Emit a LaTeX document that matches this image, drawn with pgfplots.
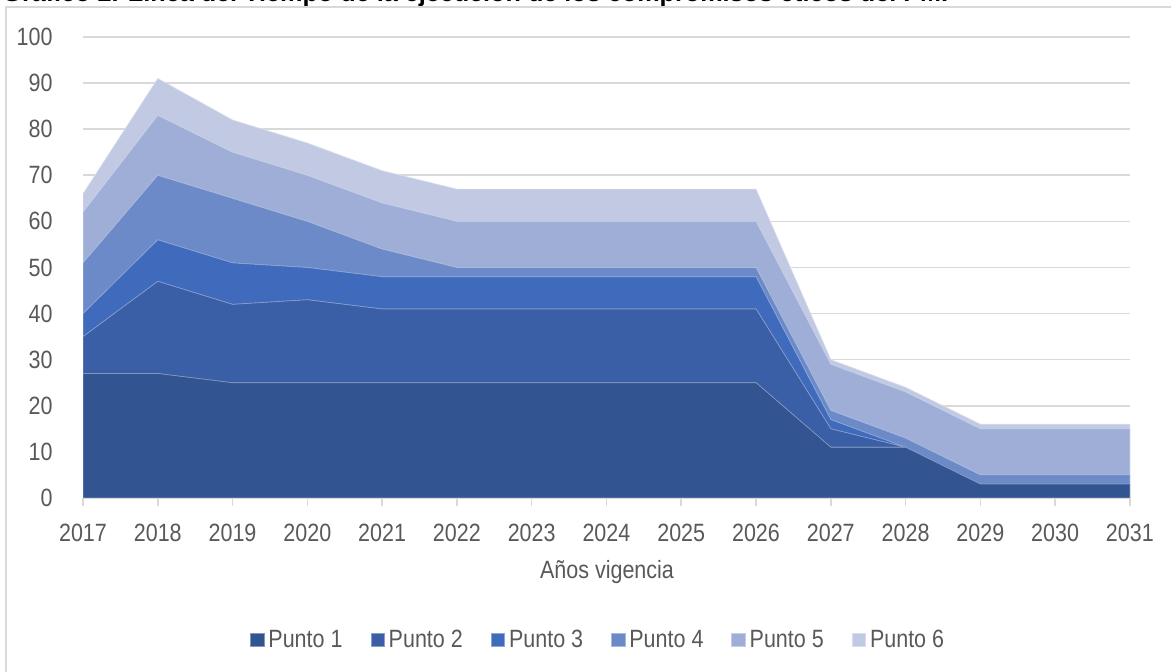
\documentclass[border=0pt]{standalone}
\usepackage{pgfplots}
\pgfplotsset{compat=1.18}
\usepackage{pgfplotstable}
\usepackage{fontspec}
\setmainfont{Liberation Sans}[FakeStretch=0.86]
\newfontfamily\titlefont{Liberation Sans}
\definecolor{c1}{HTML}{325490}
\definecolor{c2}{HTML}{3A5FA6}
\definecolor{c3}{HTML}{406BBC}
\definecolor{c4}{HTML}{6D8AC8}
\definecolor{c5}{HTML}{9EAED7}
\definecolor{c6}{HTML}{C1C9E3}
\definecolor{txt}{HTML}{595959}
\definecolor{gridc}{HTML}{D9D9D9}
\pgfplotstableread{
year P1 P2 P3 P4 P5 P6
2017 27 8 5 11 11 4
2018 27 20 9 14 13 8
2019 25 17 9 14 10 7
2020 25 18 7 10 10 7
2021 25 16 7 6 10 7
2022 25 16 7 2 10 7
2023 25 16 7 2 10 7
2024 25 16 7 2 10 7
2025 25 16 7 2 10 7
2026 25 16 7 2 10 7
2027 11 4 2 2 10 1
2028 11 0 0 2 10 1
2029 3 0 0 2 10 1
2030 3 0 0 2 10 1
2031 3 0 0 2 10 1
}\data
\begin{document}
\begin{tikzpicture}
\useasboundingbox (0,0) rectangle (585.5pt,336pt);
\clip (0,0) rectangle (585.5pt,336pt);
\node[anchor=base west, inner sep=0pt, font=\titlefont\bfseries\fontsize{12.6}{15}\selectfont] at (1pt,335pt) {Gráfico 2. Línea del Tiempo de la ejecución de los compromisos éticos del PMI};
\draw[gridc, line width=0.8pt] (3pt,-20pt) -- (3pt,332.5pt) -- (620pt,332.5pt);
\begin{axis}[
  at={(41.5pt,87pt)}, anchor=south west,
  scale only axis, width=523.5pt, height=230.5pt,
  xmin=2017, xmax=2031, ymin=0, ymax=100,
  enlargelimits=false,
  stack plots=y,
  xtick={2017,...,2031}, ytick={0,10,...,100},
  /pgf/number format/1000 sep={},
  /pgf/number format/assume math mode=true,
  ticklabel style={font=\fontsize{12.5}{15}\selectfont, text=txt},
  yticklabel style={anchor=east, inner sep=0pt, xshift=-11pt},
  xticklabel style={anchor=north, inner sep=0pt, yshift=-9pt},
  axis x line*=bottom, axis y line*=left,
  y axis line style={draw=none},
  x axis line style={gridc, line width=0.8pt},
  ytick style={draw=none},
  xtick style={gridc, line width=0.8pt},
  tick align=outside, major tick length=4pt,
  ymajorgrids, grid style={gridc, line width=0.8pt},
  xlabel={Años vigencia},
  xlabel style={font=\fontsize{12.5}{15}\selectfont, text=txt, at={(axis description cs:0.5005,-0.1605)}, anchor=center},
  legend columns=6,
  legend style={at={(0.493,-0.308)}, anchor=center, draw=none, fill=none,
    font=\fontsize{12.5}{15}\selectfont, text=txt,
    /tikz/every even column/.append style={column sep=12pt}},
  legend image code/.code={\fill[#1] (0pt,-3.4pt) rectangle (6.8pt,3.4pt);},
]
\addplot[fill=c1, draw=c1!60!white, line width=0.3pt] table[x=year,y=P1]{\data} \closedcycle;
\addplot[fill=c2, draw=c2!60!white, line width=0.3pt] table[x=year,y=P2]{\data} \closedcycle;
\addplot[fill=c3, draw=c3!60!white, line width=0.3pt] table[x=year,y=P3]{\data} \closedcycle;
\addplot[fill=c4, draw=c4!60!white, line width=0.3pt] table[x=year,y=P4]{\data} \closedcycle;
\addplot[fill=c5, draw=c5!60!white, line width=0.3pt] table[x=year,y=P5]{\data} \closedcycle;
\addplot[fill=c6, draw=c6!60!white, line width=0.3pt] table[x=year,y=P6]{\data} \closedcycle;
\legend{Punto 1, Punto 2, Punto 3, Punto 4, Punto 5, Punto 6}
\end{axis}
\end{tikzpicture}
\end{document}
